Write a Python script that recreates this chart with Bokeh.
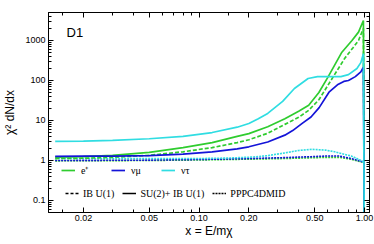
from bokeh.plotting import figure
from bokeh.models import (Range1d, FixedTicker, LogAxis, Legend, LegendItem, Label,
                          CustomJSTickFormatter)
from bokeh.embed import file_html
from bokeh.resources import INLINE

# ---------------- data ----------------
e_su2_x = [0.0135, 0.02, 0.03, 0.05, 0.08, 0.12, 0.17, 0.2, 0.26, 0.33, 0.4, 0.46, 0.53, 0.6, 0.73, 0.84, 0.92, 0.985, 1.0]
e_su2_y = [1.22, 1.25, 1.35, 1.6, 2.1, 2.8, 4.0, 4.7, 7.0, 11, 17, 24, 50, 120, 510, 1000, 1620, 3160, 1e-3]

e_ib_x = [0.0135, 0.02, 0.03, 0.05, 0.08, 0.12, 0.17, 0.2, 0.26, 0.33, 0.4, 0.46, 0.53, 0.6, 0.76, 0.85, 0.92, 0.985, 1.0]
e_ib_y = [1.12, 1.14, 1.2, 1.35, 1.65, 2.1, 2.8, 3.3, 4.8, 8.0, 12, 18, 33, 75, 360, 650, 1000, 2000, 1e-3]

mu_su2_x = [0.0135, 0.02, 0.03, 0.05, 0.08, 0.12, 0.17, 0.2, 0.26, 0.33, 0.368, 0.42, 0.475, 0.532, 0.61, 0.686, 0.75, 0.8, 0.88, 0.95, 0.985, 1.0]
mu_su2_y = [1.27, 1.28, 1.28, 1.33, 1.45, 1.65, 1.95, 2.2, 2.9, 4.3, 5.6, 8.5, 12.2, 21, 51, 78, 95, 100, 125, 165, 215, 1e-3]

tau_su2_x = [0.0135, 0.02, 0.03, 0.05, 0.08, 0.12, 0.17, 0.2, 0.228, 0.26, 0.32, 0.377, 0.456, 0.52, 0.6, 0.72, 0.8, 0.9, 0.95, 0.985, 1.0]
tau_su2_y = [3.0, 3.05, 3.2, 3.5, 4.0, 5.0, 6.8, 8.4, 11, 15, 30, 63, 112, 125, 126, 125, 140, 200, 280, 470, 1e-3]

e_pppc_x = [0.0135, 0.05, 0.1, 0.2, 0.33, 0.48, 0.6, 0.7, 0.83, 0.93, 1.0]
e_pppc_y = [0.98, 1.0, 1.03, 1.08, 1.12, 1.17, 1.2, 1.2, 1.08, 0.95, 0.88]

mu_pppc_x = [0.0135, 0.05, 0.1, 0.2, 0.33, 0.48, 0.6, 0.7, 0.83, 0.93, 1.0]
mu_pppc_y = [1.0, 1.02, 1.06, 1.12, 1.18, 1.25, 1.3, 1.3, 1.12, 0.98, 0.9]

tau_pppc_x = [0.0135, 0.05, 0.1, 0.15, 0.21, 0.26, 0.33, 0.4, 0.48, 0.58, 0.66, 0.83, 0.93, 1.0]
tau_pppc_y = [1.12, 1.12, 1.12, 1.15, 1.22, 1.32, 1.55, 1.78, 1.9, 1.82, 1.65, 1.3, 1.05, 0.89]

x_major = [0.02, 0.05, 0.1, 0.2, 0.5, 1.0]
x_minor = [0.015, 0.03, 0.04, 0.06, 0.07, 0.08, 0.09, 0.15, 0.3, 0.4, 0.6, 0.7, 0.8, 0.9]
y_major = [0.1, 1, 10, 100, 1000]
y_minor = [m * d for d in [0.01, 0.1, 1, 10, 100, 1000] for m in range(2, 10)]

GREEN = "#2fcc2f"
BLUE = "#1414d8"
CYAN = "#30dde2"

# ---------------- figure ----------------
p = figure(width=374, height=244, x_axis_type="log", y_axis_type="log",
           x_range=Range1d(0.0123, 1.072), y_range=Range1d(0.0501, 5012),
           output_backend="svg", toolbar_location=None,
           min_border_left=45, min_border_right=5, min_border_top=12, min_border_bottom=32)
p.grid.visible = False
p.outline_line_color = "black"
p.background_fill_color = "white"
p.border_fill_color = "white"

# extra axes to get ticks on all four sides
p.add_layout(LogAxis(), "above")
p.add_layout(LogAxis(), "right")

for ax in p.xaxis:
    ax.ticker = FixedTicker(ticks=x_major, minor_ticks=x_minor)
for ax in p.yaxis:
    ax.ticker = FixedTicker(ticks=y_major, minor_ticks=y_minor)

for ax in p.axis:
    ax.axis_line_color = "black"
    ax.major_tick_in = 5
    ax.major_tick_out = 0
    ax.minor_tick_in = 3
    ax.minor_tick_out = 0
    ax.major_tick_line_color = "black"
    ax.minor_tick_line_color = "black"
    ax.major_label_text_font = "Liberation Sans"
    ax.major_label_text_font_size = "9px"
    ax.major_label_text_color = "black"
    ax.major_label_standoff = 3
    ax.axis_label_text_font = "Liberation Sans"
    ax.axis_label_text_font_style = "normal"
    ax.axis_label_text_font_size = "12px"
    ax.axis_label_text_color = "black"
    ax.axis_label_standoff = 2

p.below[0].formatter = CustomJSTickFormatter(code="return tick.toFixed(2);")
p.left[0].formatter = CustomJSTickFormatter(code="return tick < 1 ? tick.toFixed(1) : tick.toFixed(0);")
p.below[0].axis_label = "x = E/mχ"
p.below[0].major_label_standoff = 2
p.below[0].axis_label_standoff = 0
p.left[0].axis_label = "χ² dN/dx"
p.left[0].axis_label_standoff = 5

for ax in (p.above[0], p.right[0]):
    ax.major_label_text_font_size = "0px"
    ax.major_label_standoff = 0
    ax.formatter = CustomJSTickFormatter(code="return '';")

# ---------------- curves ----------------
lw = 1.7
dot = "2 1"
p.line(e_pppc_x, e_pppc_y, color=GREEN, line_width=1.6, line_dash=dot)
p.line(mu_pppc_x, mu_pppc_y, color=BLUE, line_width=1.6, line_dash=dot)
p.line(tau_pppc_x, tau_pppc_y, color=CYAN, line_width=1.6, line_dash=dot)
p.line(e_ib_x, e_ib_y, color=GREEN, line_width=lw, line_dash="4 2")
p.line(e_su2_x, e_su2_y, color=GREEN, line_width=lw)
p.line(mu_su2_x, mu_su2_y, color=BLUE, line_width=lw)
p.line(tau_su2_x, tau_su2_y, color=CYAN, line_width=lw)

# legend proxies (a single point outside the view, so nothing is drawn in the plot)
nx, ny = [1e-6], [1e-6]
lg_e = p.line(nx, ny, color=GREEN, line_width=lw)
lg_mu = p.line(nx, ny, color=BLUE, line_width=lw)
lg_tau = p.line(nx, ny, color=CYAN, line_width=lw)
lg_ib = p.line(nx, ny, color="black", line_width=1.5, line_dash="3 2")
lg_su2 = p.line(nx, ny, color="black", line_width=1.5)
lg_pp = p.line(nx, ny, color="black", line_width=1.6, line_dash="2 1")


def make_legend(items, loc, spacing, standoff):
    lg = Legend(items=items, location=loc, orientation="horizontal",
                padding=0, margin=0, spacing=spacing, border_line_color=None,
                background_fill_alpha=0, glyph_width=14, glyph_height=12,
                label_height=12, label_standoff=standoff,
                label_text_font="Liberation Serif", label_text_font_size="10px",
                label_text_color="black")
    p.add_layout(lg)


make_legend([LegendItem(label="e⁺", renderers=[lg_e]),
             LegendItem(label="νμ", renderers=[lg_mu]),
             LegendItem(label="ντ", renderers=[lg_tau])], (13, 35), 10, 6)
make_legend([LegendItem(label="IB U(1)", renderers=[lg_ib]),
             LegendItem(label="SU(2)+ IB U(1)", renderers=[lg_su2]),
             LegendItem(label="PPPC4DMID", renderers=[lg_pp])], (17, 13), 8, 4)

p.add_layout(Label(x=0.0158, y=1585, text="D1", text_font="Liberation Sans",
                   text_font_size="13px", text_color="black", text_baseline="alphabetic"))

open("out.html", "w").write(file_html(p, INLINE))
